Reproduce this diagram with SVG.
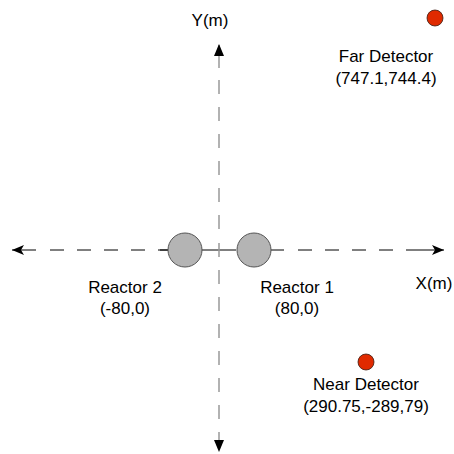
<svg xmlns="http://www.w3.org/2000/svg" width="454" height="454" viewBox="0 0 454 454">
  <style>
    text { font-family: "Liberation Sans", Arial, sans-serif; font-size: 17px; fill: #000; text-anchor: middle; }
    .axis-h { stroke: #000; stroke-width: 1; fill: none; }
    .axis-v { stroke: #999; stroke-width: 1.5; fill: none; }
    .dash { stroke-dasharray: 14 13; }
    .reactor { fill: #b4b4b4; stroke: #555; stroke-width: 1; }
    .detector { fill: #e02a00; stroke: #3a1a10; stroke-width: 0.8; }
  </style>
  <defs>
    <marker id="head" viewBox="0 0 12 10" refX="12" refY="5" markerWidth="12" markerHeight="10" markerUnits="userSpaceOnUse" orient="auto">
      <path d="M0,0 L12,5 L0,10 L3,5 Z" fill="#000"/>
    </marker>
  </defs>

  <g id="connectors">
    <!-- X axis -->
    <line class="axis-h" x1="36" y1="250" x2="12" y2="250" marker-end="url(#head)"/>
    <line class="axis-h dash" x1="50" y1="250" x2="168" y2="250"/>
    <line class="axis-h" x1="160" y1="250" x2="168" y2="250"/>
    <line class="axis-h" x1="200" y1="250" x2="236" y2="250"/>
    <line class="axis-h" x1="271" y1="250" x2="284" y2="250"/>
    <line class="axis-h dash" x1="298" y1="250" x2="420" y2="250"/>
    <line class="axis-h" x1="420" y1="250" x2="444" y2="250" marker-end="url(#head)"/>
    <!-- Y axis -->
    <line class="axis-v" x1="219" y1="68" x2="219" y2="45"/>
    <path d="M214,56 L219,44 L224,56 Z" fill="#000"/>
    <line class="axis-v dash" x1="219" y1="80" x2="219" y2="232"/>
    <line class="axis-v" x1="219" y1="243" x2="219" y2="257"/>
    <line class="axis-v dash" x1="219" y1="270" x2="219" y2="440"/>
    <path d="M214,440 L219,452 L224,440 Z" fill="#000"/>
  </g>

  <g id="reactor2">
    <circle class="reactor" cx="185" cy="250" r="17"/>
    <text x="125" y="293">Reactor 2</text>
    <text x="125" y="314">(-80,0)</text>
  </g>

  <g id="reactor1">
    <circle class="reactor" cx="254" cy="250" r="17"/>
    <text x="297" y="293">Reactor 1</text>
    <text x="297" y="314">(80,0)</text>
  </g>

  <g id="far-detector">
    <circle class="detector" cx="435" cy="18" r="8"/>
    <text x="386" y="62">Far Detector</text>
    <text x="386" y="84">(747.1,744.4)</text>
  </g>

  <g id="near-detector">
    <circle class="detector" cx="366" cy="362" r="8"/>
    <text x="366" y="390">Near Detector</text>
    <text x="366" y="412">(290.75,-289,79)</text>
  </g>

  <g id="axis-labels">
    <text x="210" y="26">Y(m)</text>
    <text x="434" y="289">X(m)</text>
  </g>
</svg>
